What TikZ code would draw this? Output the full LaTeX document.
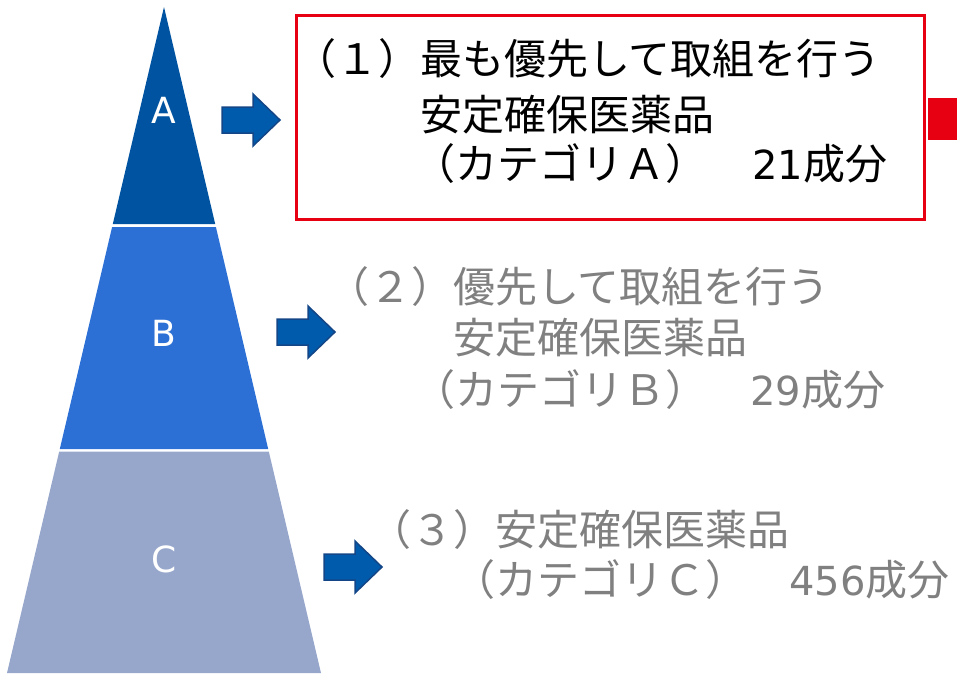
\documentclass[tikz,border=0pt]{standalone}
\usepackage{fontspec}
\newfontfamily\jpfont{Noto Sans CJK JP}
\newfontfamily\digfont{DejaVu Sans}
\definecolor{pyrA}{RGB}{0,83,160}
\definecolor{pyrB}{RGB}{44,112,214}
\definecolor{pyrC}{RGB}{151,167,204}
\definecolor{arrfill}{RGB}{0,91,172}
\definecolor{arrline}{RGB}{20,70,135}
\definecolor{redbox}{RGB}{230,0,18}
\definecolor{txtgray}{RGB}{128,128,128}
\newcommand{\dig}[1]{{\digfont\fontsize{40}{40}\selectfont #1}}
\begin{document}
\begin{tikzpicture}[x=1pt,y=-1pt,
  jptext/.style={anchor=base west, inner sep=0pt, font=\jpfont\fontsize{42}{42}\selectfont},
  graytext/.style={jptext, text=txtgray},
  blacktext/.style={jptext, text=black},
  pyrlabel/.style={inner sep=0pt, text=white, font=\digfont\fontsize{36}{36}\selectfont},
  barrow/.pic={\path[fill=arrfill, draw=arrline, line width=1.5pt, line join=miter]
     (0,-13) -- (31,-13) -- (31,-26) -- (58,0) -- (31,26) -- (31,13) -- (0,13) -- cycle;}
]
\useasboundingbox (0,0) rectangle (957,675);
% pyramid
\fill[pyrA] (164,7) -- (215.2,224) -- (112.8,224) -- cycle;
\fill[pyrB] (112.1,227) -- (215.9,227) -- (268.2,449) -- (59.8,449) -- cycle;
\fill[pyrC] (59.2,451.5) -- (268.8,451.5) -- (321,673) -- (7,673) -- cycle;
\node[pyrlabel] (labA) at (164,110) {A};
\node[pyrlabel] (labB) at (164,333) {B};
\node[pyrlabel] (labC) at (164,559) {C};
% block arrows
\pic (arrA) at (222,120) {barrow};
\pic (arrB) at (277,332) {barrow};
\pic (arrC) at (324,567) {barrow};
% red frame and square
\node[draw=redbox, line width=3.5pt, anchor=north west, inner sep=0pt,
      minimum width=628pt, minimum height=204pt] (box1) at (294.5,13.5) {};
\fill[redbox] (928,98) rectangle (957,140);
% block 1
\node[blacktext] (t1a) at (294,74) {（１）最も優先して取組を行う};
\node[blacktext] (t1b) at (420,130) {安定確保医薬品};
\node[blacktext] (t1c) at (413,179) {（カテゴリＡ）};
\node[blacktext] (t1d) at (752,179) {\dig{21}成分};
% block 2
\node[graytext] (t2a) at (327,302) {（２）優先して取組を行う};
\node[graytext] (t2b) at (453,353) {安定確保医薬品};
\node[graytext] (t2c) at (413,405) {（カテゴリＢ）};
\node[graytext] (t2d) at (750,405) {\dig{29}成分};
% block 3
\node[graytext] (t3a) at (369,545) {（３）安定確保医薬品};
\node[graytext] (t3b) at (453,595) {（カテゴリＣ）};
\node[graytext] (t3c) at (789,595) {\dig{456}成分};
\end{tikzpicture}
\end{document}
